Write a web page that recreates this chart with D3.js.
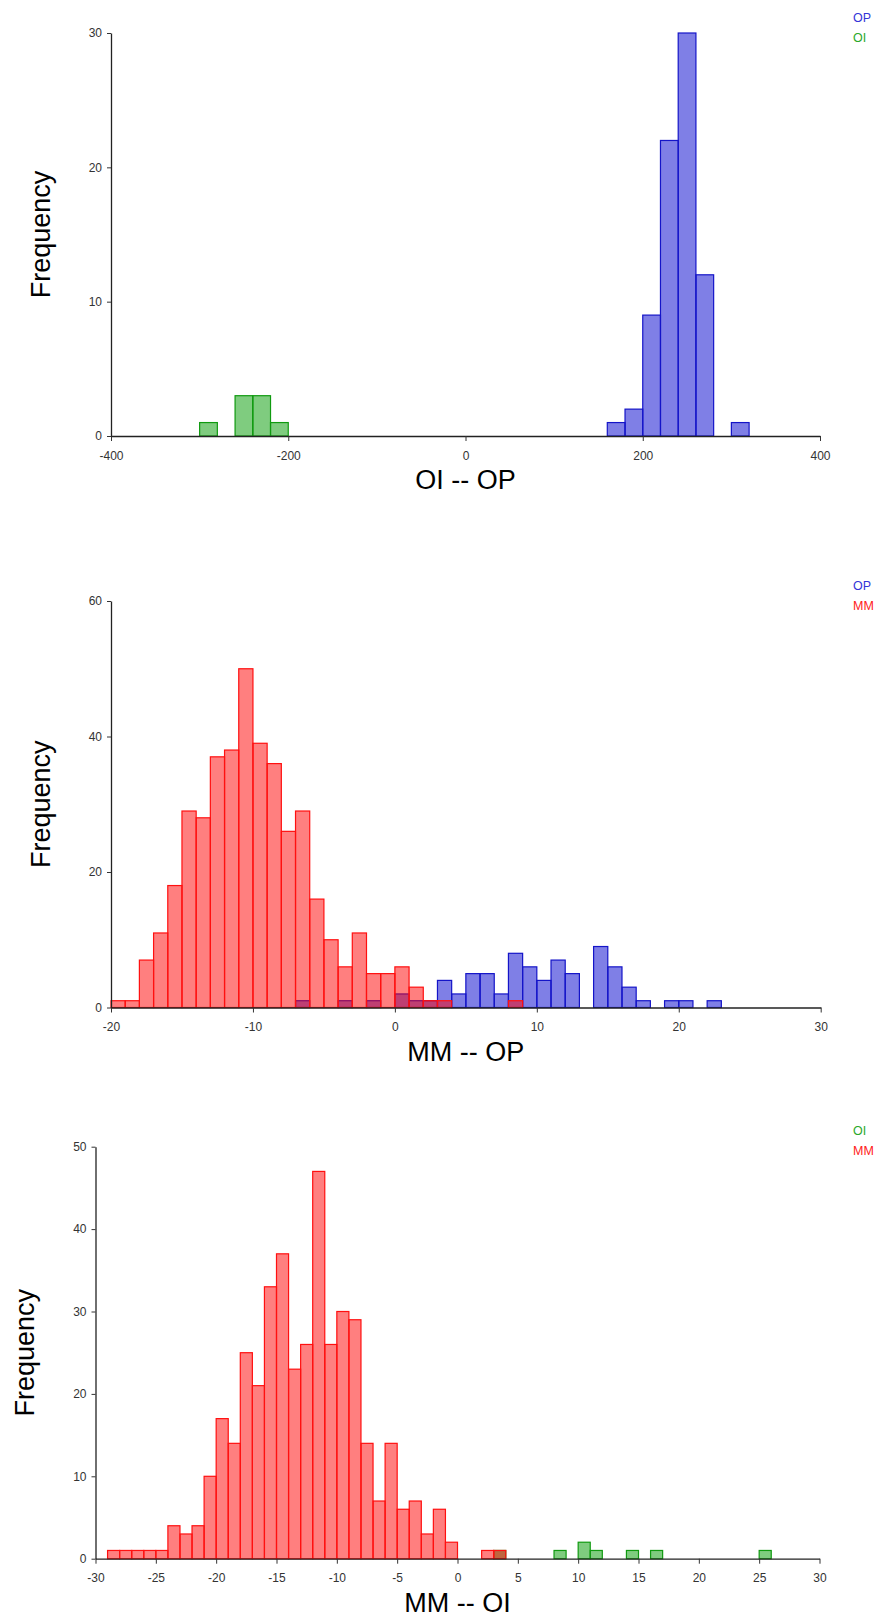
<!DOCTYPE html>
<html>
<head>
<meta charset="utf-8">
<script src="https://cdn.jsdelivr.net/npm/d3@7"></script>
<style>
  html, body { margin: 0; padding: 0; background: #fff; }
  svg { display: block; }
  text { font-family: "Liberation Sans", Arial, sans-serif; }
</style>
</head>
<body>
<svg id="chart" width="880" height="1617"></svg>
<script>
// ---------------- DATA ----------------
// Panel 1: OI -- OP (bin width 20)
const p1BinWidth = 20;
const p1OPBins   = [160, 180, 200, 220, 240, 260, 300];
const p1OPCounts = [1, 2, 9, 22, 30, 12, 1];
const p1OIBins   = [-300, -260, -240, -220];
const p1OICounts = [1, 3, 3, 1];
const p1XTicks   = [-400, -200, 0, 200, 400];
const p1XLabels  = ["-400", "-200", "0", "200", "400"];
const p1YTicks   = [0, 10, 20, 30];
const p1YLabels  = ["0", "10", "20", "30"];

// Panel 2: MM -- OP (bin width 1)
const p2BinWidth = 1;
const p2OPBins   = [-7, -4, -2, 0, 1, 2, 3, 4, 5, 6, 7, 8, 9, 10, 11, 12, 14, 15, 16, 17, 19, 20, 22];
const p2OPCounts = [1, 1, 1, 2, 1, 1, 4, 2, 5, 5, 2, 8, 6, 4, 7, 5, 9, 6, 3, 1, 1, 1, 1];
const p2MMBins   = [-20, -19, -18, -17, -16, -15, -14, -13, -12, -11, -10, -9, -8, -7, -6, -5, -4, -3, -2, -1, 0, 1, 2, 3, 8];
const p2MMCounts = [1, 1, 7, 11, 18, 29, 28, 37, 38, 50, 39, 36, 26, 29, 16, 10, 6, 11, 5, 5, 6, 3, 1, 1, 1];
const p2XTicks   = [-20, -10, 0, 10, 20, 30];
const p2XLabels  = ["-20", "-10", "0", "10", "20", "30"];
const p2YTicks   = [0, 20, 40, 60];
const p2YLabels  = ["0", "20", "40", "60"];

// Panel 3: MM -- OI (bin width 1)
const p3BinWidth = 1;
const p3OIBins   = [3, 8, 10, 11, 14, 16, 25];
const p3OICounts = [1, 1, 2, 1, 1, 1, 1];
const p3MMBins   = [-29, -28, -27, -26, -25, -24, -23, -22, -21, -20, -19, -18, -17, -16, -15, -14, -13, -12, -11, -10, -9, -8, -7, -6, -5, -4, -3, -2, -1, 2, 3];
const p3MMCounts = [1, 1, 1, 1, 1, 4, 3, 4, 10, 17, 14, 25, 21, 33, 37, 23, 26, 47, 26, 30, 29, 14, 7, 14, 6, 7, 3, 6, 2, 1, 1];
const p3XTicks   = [-30, -25, -20, -15, -10, -5, 0, 5, 10, 15, 20, 25, 30];
const p3XLabels  = ["-30", "-25", "-20", "-15", "-10", "-5", "0", "5", "10", "15", "20", "25", "30"];
const p3YTicks   = [0, 10, 20, 30, 40, 50];
const p3YLabels  = ["0", "10", "20", "30", "40", "50"];

const yLabelText = "Frequency";

// ---------------- STYLE ----------------
const colors = {
  OP: { fill: "rgba(0,0,205,0.5)", stroke: "#1414c8", text: "#3434d8" },
  OI: { fill: "rgba(0,153,0,0.5)", stroke: "#109a10", text: "#2aa82a" },
  MM: { fill: "rgba(255,0,0,0.5)", stroke: "#ff1010", text: "#ff2020" }
};

const panels = [
  {
    title: "OI -- OP", binWidth: p1BinWidth,
    xDomain: [-400, 400], yDomain: [0, 30],
    xRange: [111, 820], yRange: [436, 33],
    xTicks: p1XTicks, xLabels: p1XLabels, yTicks: p1YTicks, yLabels: p1YLabels,
    series: [
      { name: "OP", bins: p1OPBins, counts: p1OPCounts },
      { name: "OI", bins: p1OIBins, counts: p1OICounts }
    ],
    legendY: 21.5, freqX: 49.5
  },
  {
    title: "MM -- OP", binWidth: p2BinWidth,
    xDomain: [-20, 30], yDomain: [0, 60],
    xRange: [111, 820.7], yRange: [1007.5, 601],
    xTicks: p2XTicks, xLabels: p2XLabels, yTicks: p2YTicks, yLabels: p2YLabels,
    series: [
      { name: "OP", bins: p2OPBins, counts: p2OPCounts },
      { name: "MM", bins: p2MMBins, counts: p2MMCounts }
    ],
    legendY: 589.5, freqX: 49.5
  },
  {
    title: "MM -- OI", binWidth: p3BinWidth,
    xDomain: [-30, 30], yDomain: [0, 50],
    xRange: [95.5, 819.5], yRange: [1558.7, 1146.7],
    xTicks: p3XTicks, xLabels: p3XLabels, yTicks: p3YTicks, yLabels: p3YLabels,
    series: [
      { name: "OI", bins: p3OIBins, counts: p3OICounts },
      { name: "MM", bins: p3MMBins, counts: p3MMCounts }
    ],
    legendY: 1134.5, freqX: 33.5
  }
];

const svg = d3.select("#chart");

panels.forEach(p => {
  const x = d3.scaleLinear().domain(p.xDomain).range(p.xRange);
  const y = d3.scaleLinear().domain(p.yDomain).range(p.yRange);
  const g = svg.append("g");

  // bars
  p.series.forEach(s => {
    const data = s.bins.map((b, i) => ({ x0: b, x1: b + p.binWidth, n: s.counts[i] }));
    g.append("g").selectAll("rect").data(data).join("rect")
      .attr("x", d => x(d.x0))
      .attr("width", d => x(d.x1) - x(d.x0))
      .attr("y", d => y(d.n))
      .attr("height", d => y(0) - y(d.n))
      .attr("fill", colors[s.name].fill)
      .attr("stroke", colors[s.name].stroke)
      .attr("stroke-width", 1.2);
  });

  // axes
  const xAxis = d3.axisBottom(x)
    .tickValues(p.xTicks)
    .tickFormat((d, i) => p.xLabels[i])
    .tickSizeInner(5).tickSizeOuter(0).tickPadding(10);
  const yAxis = d3.axisLeft(y)
    .tickValues(p.yTicks)
    .tickFormat((d, i) => p.yLabels[i])
    .tickSizeInner(4).tickSizeOuter(0).tickPadding(5);

  const gx = g.append("g").attr("transform", `translate(0,${p.yRange[0]})`).call(xAxis);
  const gy = g.append("g").attr("transform", `translate(${p.xRange[0]},0)`).call(yAxis);
  [gx, gy].forEach(a => {
    a.select(".domain").attr("stroke", "#222").attr("stroke-width", 1.3);
    a.selectAll(".tick line").attr("stroke", "#333").attr("stroke-width", 1);
    a.selectAll(".tick text").attr("fill", "#333")
      .style("font-family", "'Liberation Sans', Arial, sans-serif")
      .style("font-size", "12px");
  });

  // x title
  svg.append("text")
    .attr("x", (p.xRange[0] + p.xRange[1]) / 2)
    .attr("y", p.yRange[0] + 53)
    .attr("text-anchor", "middle")
    .style("font-size", "27px")
    .attr("fill", "#000")
    .text(p.title);

  // y title
  const cy = (p.yRange[0] + p.yRange[1]) / 2;
  svg.append("text")
    .attr("transform", `translate(${p.freqX},${cy}) rotate(-90)`)
    .attr("text-anchor", "middle")
    .style("font-size", "27px")
    .attr("fill", "#000")
    .text(yLabelText);

  // legend
  p.series.forEach((s, i) => {
    svg.append("text")
      .attr("x", 853)
      .attr("y", p.legendY + i * 20.5)
      .style("font-size", "12.5px")
      .attr("fill", colors[s.name].text)
      .text(s.name);
  });
});
</script>
</body>
</html>
